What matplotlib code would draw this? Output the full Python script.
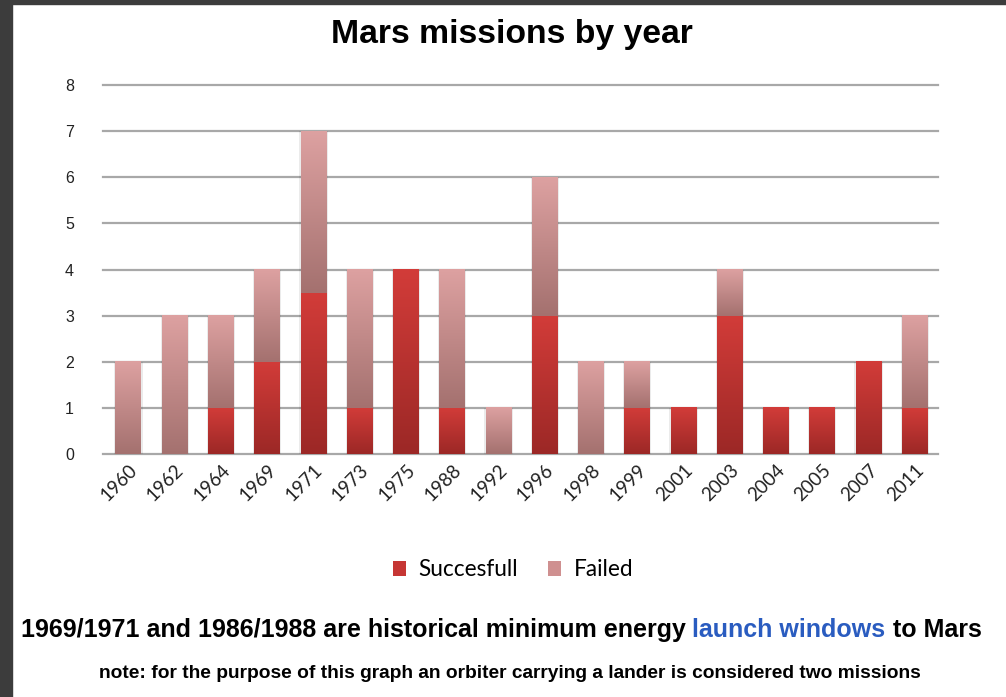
import numpy as np
import matplotlib
matplotlib.use("Agg")
import matplotlib.pyplot as plt
from matplotlib.colors import LinearSegmentedColormap
from matplotlib.patches import Patch, Rectangle

# Chart data
years = ["1960", "1962", "1964", "1969", "1971", "1973", "1975", "1988", "1992",
         "1996", "1998", "1999", "2001", "2003", "2004", "2005", "2007", "2011"]
successful = [0, 0, 1, 2, 3.5, 1, 4, 1, 0, 3, 0, 1, 1, 3, 1, 1, 2, 1]
failed = [2, 3, 2, 2, 3.5, 3, 0, 3, 1, 3, 2, 1, 0, 1, 0, 0, 0, 2]
y_ticks = [0, 1, 2, 3, 4, 5, 6, 7, 8]

title = "Mars missions by year"
note_parts = ["1969/1971 and 1986/1988 are historical minimum energy ", "launch windows", " to Mars"]
note2 = "note: for the purpose of this graph an orbiter carrying a lander is considered two missions"

# Gradients: light at top, dark at bottom
succ_cmap = LinearSegmentedColormap.from_list("succ", ["#9c2826", "#d23c39"])
fail_cmap = LinearSegmentedColormap.from_list("fail", ["#a4716f", "#dda1a1"])
succ_color = "#c63634"
fail_color = "#cf9090"

W, H = 1006, 697
fig = plt.figure(figsize=(W / 100, H / 100), dpi=100)
fig.patch.set_facecolor("white")

# dark frame on the left and top
fig.patches.append(Rectangle((0, 0), 12 / W, 1, transform=fig.transFigure, color="#3c3c3c", zorder=0))
fig.patches.append(Rectangle((0, 1 - 4 / H), 1, 4 / H, transform=fig.transFigure, color="#3c3c3c", zorder=0))

ax = fig.add_axes([103 / W, 1 - 454 / H, 835 / W, 369 / H])

grad = np.linspace(0, 1, 128).reshape(-1, 1)
bar_w = 0.56
x = np.arange(len(years))
for i, (s, f) in enumerate(zip(successful, failed)):
    # soft shadow behind each bar
    ax.bar(i, s + f, width=bar_w + 0.05, color="#000000", alpha=0.08, zorder=2)
    if s > 0:
        ax.imshow(grad, extent=(i - bar_w / 2, i + bar_w / 2, 0, s), aspect="auto",
                  cmap=succ_cmap, origin="lower", zorder=3, interpolation="bilinear")
    if f > 0:
        ax.imshow(grad, extent=(i - bar_w / 2, i + bar_w / 2, s, s + f), aspect="auto",
                  cmap=fail_cmap, origin="lower", zorder=3, interpolation="bilinear")

ax.set_xlim(-0.55, len(years) - 0.5)
ax.set_ylim(0, 8)
ax.set_yticks(y_ticks)
ax.set_xticks(x)
ax.set_xticklabels(years, rotation=45, ha="right", rotation_mode="anchor",
                   fontsize=13.5, color="#222222", family=["Lato", "DejaVu Sans"])
ax.tick_params(axis="x", length=0, pad=5)
ax.tick_params(axis="y", length=0, pad=21, labelsize=11.5, labelcolor="#222222")
for lab in ax.get_yticklabels():
    lab.set_family(["Liberation Sans", "DejaVu Sans"])
ax.yaxis.grid(True, color="#a8a8a8", linewidth=1.6, zorder=1)
for gl in ax.get_ygridlines():
    gl.set_clip_on(False)
ax.set_axisbelow(True)
for sp in ax.spines.values():
    sp.set_visible(False)

fig.text(512 / W, 1 - 35 / H, title, ha="center", va="center", fontsize=24.3,
         fontweight="bold", family=["Liberation Sans", "DejaVu Sans"])

handles = [Patch(facecolor=succ_color, label="Succesfull"), Patch(facecolor=fail_color, label="Failed")]
fig.legend(handles=handles, loc="center", bbox_to_anchor=(513 / W, 1 - 570 / H), ncol=2,
           frameon=False, handlelength=0.6, handleheight=0.6, handletextpad=0.55,
           columnspacing=1.3, prop={"family": ["Lato", "DejaVu Sans"], "size": 16.3})

# first note, with the blue part
renderer = fig.canvas.get_renderer()
colors = ["black", "#2a5cc0", "black"]
texts = []
for part, c in zip(note_parts, colors):
    t = fig.text(0, 1 - 630 / H, part, ha="left", va="center", fontsize=18, fontweight="bold",
                 color=c, family=["Liberation Sans", "DejaVu Sans"])
    texts.append(t)
widths = [t.get_window_extent(renderer).width for t in texts]
start = 501 - sum(widths) / 2
for t, w in zip(texts, widths):
    t.set_x(start / W)
    start += w

fig.text(510 / W, 1 - 674 / H, note2, ha="center", va="center", fontsize=13.8,
         fontweight="bold", family=["Liberation Sans", "DejaVu Sans"])

fig.savefig("out.png", dpi=100)
